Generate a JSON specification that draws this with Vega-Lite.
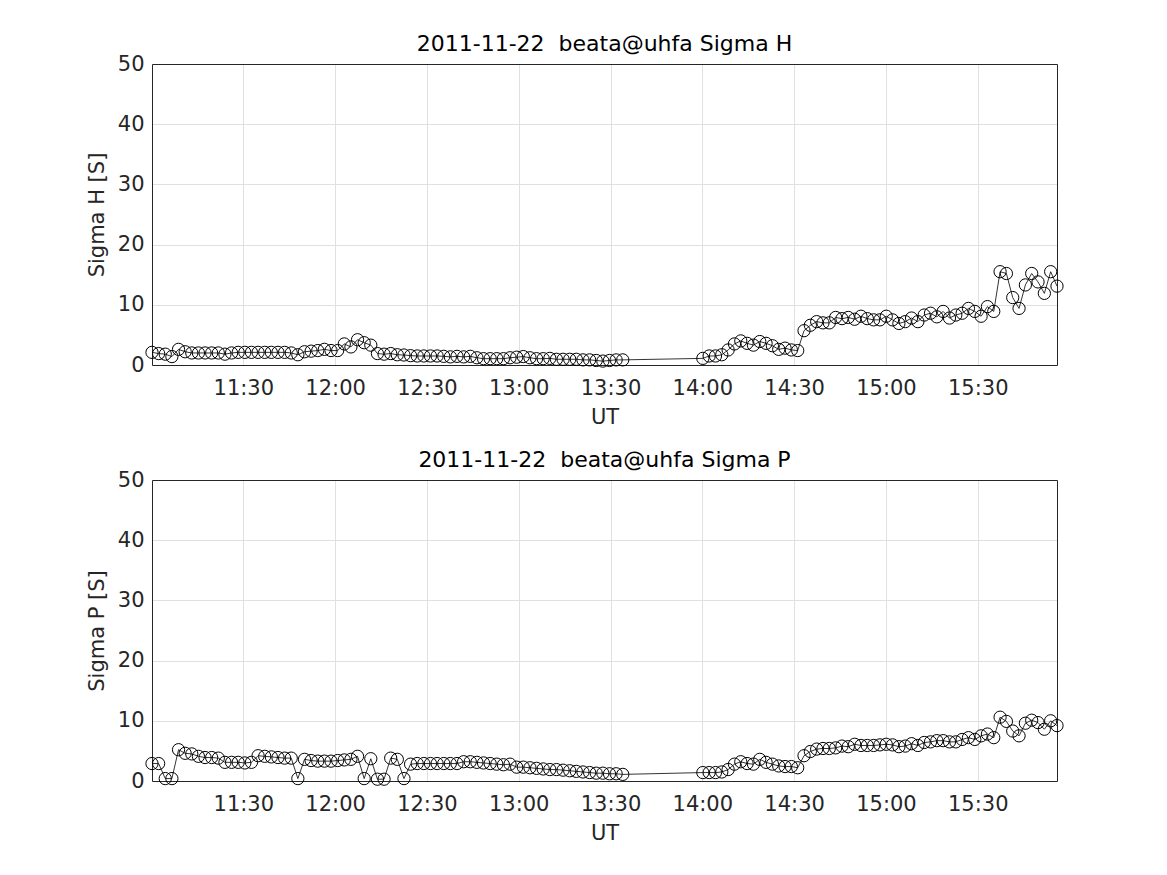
{
  "$schema": "https://vega.github.io/schema/vega-lite/v6.json",
  "background": "white",
  "padding": {"left": 86, "top": 33, "right": 20, "bottom": 10},
  "data": {"values": [
    {"t": "2011-11-22T11:00:10Z", "h": 2.1, "p": 2.9},
    {"t": "2011-11-22T11:02:20Z", "h": 1.9, "p": 2.9},
    {"t": "2011-11-22T11:04:30Z", "h": 1.8, "p": 0.4},
    {"t": "2011-11-22T11:06:40Z", "h": 1.4, "p": 0.4},
    {"t": "2011-11-22T11:08:50Z", "h": 2.6, "p": 5.2},
    {"t": "2011-11-22T11:11:00Z", "h": 2.2, "p": 4.6},
    {"t": "2011-11-22T11:13:10Z", "h": 2.0, "p": 4.5},
    {"t": "2011-11-22T11:15:20Z", "h": 2.0, "p": 4.1},
    {"t": "2011-11-22T11:17:30Z", "h": 2.0, "p": 3.9},
    {"t": "2011-11-22T11:19:40Z", "h": 2.0, "p": 3.9},
    {"t": "2011-11-22T11:21:50Z", "h": 2.0, "p": 3.8},
    {"t": "2011-11-22T11:24:00Z", "h": 1.8, "p": 3.1},
    {"t": "2011-11-22T11:26:10Z", "h": 2.0, "p": 3.1},
    {"t": "2011-11-22T11:28:20Z", "h": 2.1, "p": 3.1},
    {"t": "2011-11-22T11:30:30Z", "h": 2.1, "p": 3.0},
    {"t": "2011-11-22T11:32:40Z", "h": 2.1, "p": 3.1},
    {"t": "2011-11-22T11:34:50Z", "h": 2.1, "p": 4.2},
    {"t": "2011-11-22T11:37:00Z", "h": 2.1, "p": 4.1},
    {"t": "2011-11-22T11:39:10Z", "h": 2.1, "p": 4.0},
    {"t": "2011-11-22T11:41:20Z", "h": 2.1, "p": 3.9},
    {"t": "2011-11-22T11:43:30Z", "h": 2.1, "p": 3.8},
    {"t": "2011-11-22T11:45:40Z", "h": 2.0, "p": 3.8},
    {"t": "2011-11-22T11:47:50Z", "h": 1.7, "p": 0.4},
    {"t": "2011-11-22T11:50:00Z", "h": 2.2, "p": 3.6},
    {"t": "2011-11-22T11:52:10Z", "h": 2.3, "p": 3.4},
    {"t": "2011-11-22T11:54:20Z", "h": 2.4, "p": 3.3},
    {"t": "2011-11-22T11:56:30Z", "h": 2.6, "p": 3.3},
    {"t": "2011-11-22T11:58:40Z", "h": 2.4, "p": 3.3},
    {"t": "2011-11-22T12:00:50Z", "h": 2.4, "p": 3.4},
    {"t": "2011-11-22T12:03:00Z", "h": 3.5, "p": 3.5},
    {"t": "2011-11-22T12:05:10Z", "h": 3.0, "p": 3.6},
    {"t": "2011-11-22T12:07:20Z", "h": 4.2, "p": 4.1},
    {"t": "2011-11-22T12:09:30Z", "h": 3.7, "p": 0.4},
    {"t": "2011-11-22T12:11:40Z", "h": 3.3, "p": 3.7},
    {"t": "2011-11-22T12:13:50Z", "h": 1.9, "p": 0.3},
    {"t": "2011-11-22T12:16:00Z", "h": 1.8, "p": 0.3},
    {"t": "2011-11-22T12:18:10Z", "h": 1.9, "p": 3.8},
    {"t": "2011-11-22T12:20:20Z", "h": 1.7, "p": 3.6},
    {"t": "2011-11-22T12:22:30Z", "h": 1.66, "p": 0.4},
    {"t": "2011-11-22T12:24:40Z", "h": 1.55, "p": 2.8},
    {"t": "2011-11-22T12:26:50Z", "h": 1.5, "p": 2.9},
    {"t": "2011-11-22T12:29:00Z", "h": 1.5, "p": 2.9},
    {"t": "2011-11-22T12:31:10Z", "h": 1.5, "p": 2.9},
    {"t": "2011-11-22T12:33:20Z", "h": 1.5, "p": 2.9},
    {"t": "2011-11-22T12:35:30Z", "h": 1.44, "p": 2.9},
    {"t": "2011-11-22T12:37:40Z", "h": 1.35, "p": 2.9},
    {"t": "2011-11-22T12:39:50Z", "h": 1.44, "p": 2.9},
    {"t": "2011-11-22T12:42:00Z", "h": 1.35, "p": 3.2},
    {"t": "2011-11-22T12:44:10Z", "h": 1.44, "p": 3.2},
    {"t": "2011-11-22T12:46:20Z", "h": 1.2, "p": 3.1},
    {"t": "2011-11-22T12:48:30Z", "h": 1.05, "p": 3.0},
    {"t": "2011-11-22T12:50:40Z", "h": 1.05, "p": 2.9},
    {"t": "2011-11-22T12:52:50Z", "h": 1.05, "p": 2.8},
    {"t": "2011-11-22T12:55:00Z", "h": 1.05, "p": 2.7},
    {"t": "2011-11-22T12:57:10Z", "h": 1.2, "p": 2.8},
    {"t": "2011-11-22T12:59:20Z", "h": 1.3, "p": 2.3},
    {"t": "2011-11-22T13:01:30Z", "h": 1.4, "p": 2.3},
    {"t": "2011-11-22T13:03:40Z", "h": 1.2, "p": 2.2},
    {"t": "2011-11-22T13:05:50Z", "h": 1.05, "p": 2.1},
    {"t": "2011-11-22T13:08:00Z", "h": 1.05, "p": 2.0},
    {"t": "2011-11-22T13:10:10Z", "h": 1.1, "p": 1.9},
    {"t": "2011-11-22T13:12:20Z", "h": 0.95, "p": 1.9},
    {"t": "2011-11-22T13:14:30Z", "h": 0.95, "p": 1.8},
    {"t": "2011-11-22T13:16:40Z", "h": 0.95, "p": 1.7},
    {"t": "2011-11-22T13:18:50Z", "h": 0.95, "p": 1.6},
    {"t": "2011-11-22T13:21:00Z", "h": 0.85, "p": 1.5},
    {"t": "2011-11-22T13:23:10Z", "h": 0.85, "p": 1.4},
    {"t": "2011-11-22T13:25:20Z", "h": 0.75, "p": 1.3},
    {"t": "2011-11-22T13:27:30Z", "h": 0.65, "p": 1.3},
    {"t": "2011-11-22T13:29:40Z", "h": 0.75, "p": 1.2},
    {"t": "2011-11-22T13:31:50Z", "h": 0.85, "p": 1.2},
    {"t": "2011-11-22T13:34:00Z", "h": 0.85, "p": 1.1},
    {"t": "2011-11-22T14:00:10Z", "h": 1.1, "p": 1.4},
    {"t": "2011-11-22T14:02:14Z", "h": 1.5, "p": 1.4},
    {"t": "2011-11-22T14:04:18Z", "h": 1.5, "p": 1.4},
    {"t": "2011-11-22T14:06:22Z", "h": 1.7, "p": 1.5},
    {"t": "2011-11-22T14:08:26Z", "h": 2.5, "p": 1.9},
    {"t": "2011-11-22T14:10:30Z", "h": 3.5, "p": 2.8},
    {"t": "2011-11-22T14:12:34Z", "h": 4.0, "p": 3.2},
    {"t": "2011-11-22T14:14:38Z", "h": 3.6, "p": 2.9},
    {"t": "2011-11-22T14:16:42Z", "h": 3.3, "p": 2.8},
    {"t": "2011-11-22T14:18:46Z", "h": 3.9, "p": 3.6},
    {"t": "2011-11-22T14:20:50Z", "h": 3.6, "p": 3.1},
    {"t": "2011-11-22T14:22:54Z", "h": 3.2, "p": 2.8},
    {"t": "2011-11-22T14:24:58Z", "h": 2.6, "p": 2.5},
    {"t": "2011-11-22T14:27:02Z", "h": 2.8, "p": 2.4},
    {"t": "2011-11-22T14:29:06Z", "h": 2.5, "p": 2.4},
    {"t": "2011-11-22T14:31:10Z", "h": 2.4, "p": 2.2},
    {"t": "2011-11-22T14:33:14Z", "h": 5.7, "p": 4.2},
    {"t": "2011-11-22T14:35:18Z", "h": 6.6, "p": 4.9},
    {"t": "2011-11-22T14:37:22Z", "h": 7.2, "p": 5.3},
    {"t": "2011-11-22T14:39:26Z", "h": 7.0, "p": 5.4},
    {"t": "2011-11-22T14:41:30Z", "h": 7.0, "p": 5.4},
    {"t": "2011-11-22T14:43:34Z", "h": 7.9, "p": 5.5},
    {"t": "2011-11-22T14:45:38Z", "h": 7.7, "p": 5.8},
    {"t": "2011-11-22T14:47:42Z", "h": 7.9, "p": 5.7},
    {"t": "2011-11-22T14:49:46Z", "h": 7.6, "p": 6.1},
    {"t": "2011-11-22T14:51:50Z", "h": 8.1, "p": 5.9},
    {"t": "2011-11-22T14:53:54Z", "h": 7.7, "p": 5.9},
    {"t": "2011-11-22T14:55:58Z", "h": 7.5, "p": 5.9},
    {"t": "2011-11-22T14:58:02Z", "h": 7.5, "p": 6.0},
    {"t": "2011-11-22T15:00:06Z", "h": 8.1, "p": 6.1},
    {"t": "2011-11-22T15:02:10Z", "h": 7.5, "p": 6.0},
    {"t": "2011-11-22T15:04:14Z", "h": 6.9, "p": 5.7},
    {"t": "2011-11-22T15:06:18Z", "h": 7.2, "p": 5.8},
    {"t": "2011-11-22T15:08:22Z", "h": 7.8, "p": 6.2},
    {"t": "2011-11-22T15:10:26Z", "h": 7.2, "p": 5.9},
    {"t": "2011-11-22T15:12:30Z", "h": 8.3, "p": 6.4},
    {"t": "2011-11-22T15:14:34Z", "h": 8.6, "p": 6.5},
    {"t": "2011-11-22T15:16:38Z", "h": 8.0, "p": 6.7},
    {"t": "2011-11-22T15:18:42Z", "h": 8.9, "p": 6.7},
    {"t": "2011-11-22T15:20:46Z", "h": 7.8, "p": 6.5},
    {"t": "2011-11-22T15:22:50Z", "h": 8.3, "p": 6.5},
    {"t": "2011-11-22T15:24:54Z", "h": 8.6, "p": 6.9},
    {"t": "2011-11-22T15:26:58Z", "h": 9.4, "p": 7.2},
    {"t": "2011-11-22T15:29:02Z", "h": 8.9, "p": 6.9},
    {"t": "2011-11-22T15:31:06Z", "h": 8.1, "p": 7.5},
    {"t": "2011-11-22T15:33:10Z", "h": 9.7, "p": 7.8},
    {"t": "2011-11-22T15:35:14Z", "h": 8.9, "p": 7.2},
    {"t": "2011-11-22T15:37:18Z", "h": 15.5, "p": 10.6},
    {"t": "2011-11-22T15:39:22Z", "h": 15.2, "p": 9.9},
    {"t": "2011-11-22T15:41:26Z", "h": 11.2, "p": 8.3},
    {"t": "2011-11-22T15:43:30Z", "h": 9.4, "p": 7.5},
    {"t": "2011-11-22T15:45:34Z", "h": 13.3, "p": 9.6},
    {"t": "2011-11-22T15:47:38Z", "h": 15.2, "p": 10.1},
    {"t": "2011-11-22T15:49:42Z", "h": 13.8, "p": 9.7},
    {"t": "2011-11-22T15:51:46Z", "h": 11.9, "p": 8.6},
    {"t": "2011-11-22T15:53:50Z", "h": 15.5, "p": 10.0},
    {"t": "2011-11-22T15:55:54Z", "h": 13.1, "p": 9.2}
  ]},
  "spacing": 22,
  "vconcat": [
    {
      "width": 905, "height": 301,
      "title": {"text": "2011-11-22\u00a0 beata@uhfa Sigma H"},
      "layer": [
        {
          "mark": {"type": "line", "color": "black", "strokeWidth": 0.8},
          "encoding": {
            "x": {"field": "t", "type": "temporal", "scale": {"type": "utc", "nice": false},
              "axis": {"orient": "bottom", "title": "UT", "grid": true, "tickCount": 10, "format": "%H:%M",
                "ticks": false, "labelPadding": 12, "titlePadding": 8, "labelFlush": false}},
            "y": {"field": "h", "type": "quantitative", "scale": {"domain": [0, 50], "nice": false},
              "axis": {"orient": "left", "title": "Sigma H [S]", "grid": true, "tickCount": 5,
                "ticks": false, "labelPadding": 8, "titlePadding": 10, "labelFlush": false}}
          }
        },
        {
          "mark": {"type": "point", "shape": "circle", "filled": false, "stroke": "black", "strokeWidth": 1, "size": 150, "opacity": 1},
          "encoding": {
            "x": {"field": "t", "type": "temporal", "scale": {"type": "utc", "nice": false},
              "axis": {"orient": "top", "title": null, "labels": false, "grid": false, "ticks": false}},
            "y": {"field": "h", "type": "quantitative", "scale": {"domain": [0, 50], "nice": false},
              "axis": {"orient": "right", "title": null, "labels": false, "grid": false, "ticks": false}}
          }
        }
      ],
      "resolve": {"axis": {"x": "independent", "y": "independent"}}
    },
    {
      "width": 905, "height": 301,
      "title": {"text": "2011-11-22\u00a0 beata@uhfa Sigma P"},
      "layer": [
        {
          "mark": {"type": "line", "color": "black", "strokeWidth": 0.8},
          "encoding": {
            "x": {"field": "t", "type": "temporal", "scale": {"type": "utc", "nice": false},
              "axis": {"orient": "bottom", "title": "UT", "grid": true, "tickCount": 10, "format": "%H:%M",
                "ticks": false, "labelPadding": 12, "titlePadding": 8, "labelFlush": false}},
            "y": {"field": "p", "type": "quantitative", "scale": {"domain": [0, 50], "nice": false},
              "axis": {"orient": "left", "title": "Sigma P [S]", "grid": true, "tickCount": 5,
                "ticks": false, "labelPadding": 8, "titlePadding": 10, "labelFlush": false}}
          }
        },
        {
          "mark": {"type": "point", "shape": "circle", "filled": false, "stroke": "black", "strokeWidth": 1, "size": 150, "opacity": 1},
          "encoding": {
            "x": {"field": "t", "type": "temporal", "scale": {"type": "utc", "nice": false},
              "axis": {"orient": "top", "title": null, "labels": false, "grid": false, "ticks": false}},
            "y": {"field": "p", "type": "quantitative", "scale": {"domain": [0, 50], "nice": false},
              "axis": {"orient": "right", "title": null, "labels": false, "grid": false, "ticks": false}}
          }
        }
      ],
      "resolve": {"axis": {"x": "independent", "y": "independent"}}
    }
  ],
  "config": {
    "font": "DejaVu Sans",
    "view": {"stroke": null},
    "axis": {"labelFont": "DejaVu Sans", "labelFontSize": 21, "labelColor": "#262626",
      "titleFont": "DejaVu Sans", "titleFontSize": 21, "titleFontWeight": "normal", "titleColor": "#262626",
      "domainColor": "#262626", "domainWidth": 1, "gridColor": "#e0e0e0", "gridWidth": 1},
    "title": {"font": "DejaVu Sans", "fontSize": 22, "fontWeight": "normal", "color": "#000000", "offset": -3}
  }
}
